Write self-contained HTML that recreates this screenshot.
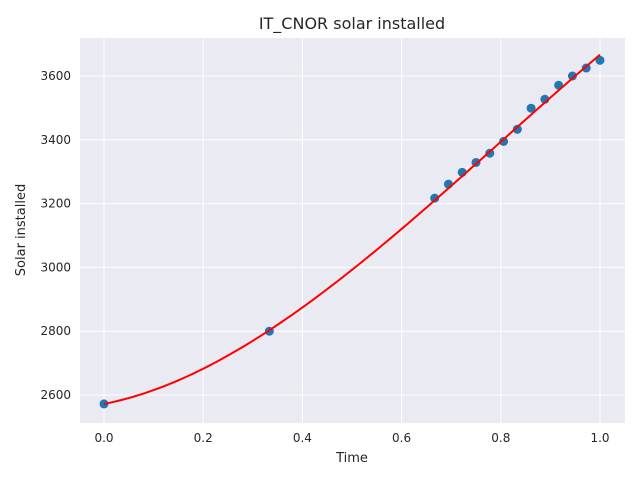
<!DOCTYPE html>
<html><head><meta charset="utf-8"><style>
body{margin:0;background:#fff;font-family:"Liberation Sans","DejaVu Sans",sans-serif}
text{font-family:"DejaVu Sans","Liberation Sans",sans-serif}
</style></head><body>
<svg id="chart" width="640" height="480" xmlns="http://www.w3.org/2000/svg">
<rect width="640" height="480" fill="#fff"/>
<rect x="80" y="38" width="545" height="385" fill="#eaeaf2"/>
<g id="grid"></g><g id="ticks"></g><g id="series"></g>
<text x="352" y="29" font-size="16" text-anchor="middle" fill="#262626">IT_CNOR solar installed</text>
<text x="352" y="462" font-size="13" text-anchor="middle" fill="#262626">Time</text>
<text transform="translate(25,230) rotate(-90)" font-size="13" text-anchor="middle" fill="#262626">Solar installed</text>
</svg>
<script>
const xs=[0,12/36,24/36,25/36,26/36,27/36,28/36,29/36,30/36,31/36,32/36,33/36,34/36,35/36,1];
const ys=[2572,2800,3217,3261,3298,3329,3358,3395,3433,3499,3527,3571,3600,3625,3649];
const fitXs=[0,1/3,2/3,1];
const fitYs=[2572,2803,3210,3667];
const xTicks=[0,0.2,0.4,0.6,0.8,1.0];
const yTicks=[2600,2800,3000,3200,3400,3600];
const X=v=>104+v*496, Y=v=>395-(v-2600)*0.319;
const NS="http://www.w3.org/2000/svg";
function mk(t,a,p){const e=document.createElementNS(NS,t);for(const k in a)e.setAttribute(k,a[k]);p.appendChild(e);return e;}
const g=document.getElementById('grid'),tk=document.getElementById('ticks'),s=document.getElementById('series');
xTicks.forEach(v=>{const l=mk('line',{x1:X(v),x2:X(v),y1:38,y2:423,stroke:'#fff','stroke-width':1},g);


const t=mk('text',{x:X(v),y:442,'font-size':12,'text-anchor':'middle',fill:'#262626'},tk);t.textContent=v.toFixed(1);

});
yTicks.forEach(v=>{const l=mk('line',{x1:80,x2:625,y1:Y(v),y2:Y(v),stroke:'#fff','stroke-width':1},g);


const t=mk('text',{x:71,y:Y(v)+4,'font-size':12,'text-anchor':'end',fill:'#262626'},tk);t.textContent=v;

});
function fit(x){let r=0;const n=fitXs.length;for(let i=0;i<n;i++){let L=1;for(let j=0;j<n;j++)if(j!==i)L*=(x-fitXs[j])/(fitXs[i]-fitXs[j]);r+=fitYs[i]*L;}return r;}
let d='';for(let i=0;i<=100;i++){const x=i/100;d+=(i?'L':'M')+X(x).toFixed(2)+','+Y(fit(x)).toFixed(2);}
xs.forEach((x,i)=>{const p=mk('circle',{cx:X(x),cy:Y(ys[i]),r:4.5,fill:'#1f77b4'},s);

});
const fl=mk('path',{d:d,fill:'none',stroke:'#ff0000','stroke-width':2},s);


</script>
</body></html>
